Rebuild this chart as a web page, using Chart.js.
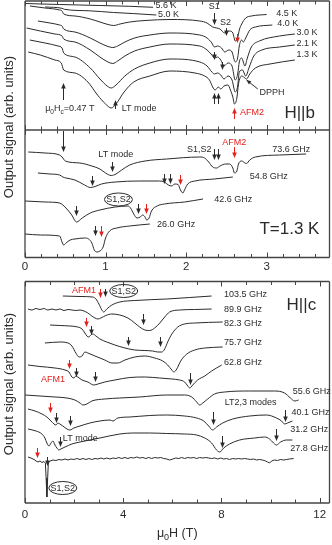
<!DOCTYPE html>
<html>
<head>
<meta charset="utf-8">
<script src="https://cdn.jsdelivr.net/npm/chart.js@4.4.1/dist/chart.umd.min.js"></script>
<style>
  html, body { margin: 0; padding: 0; background: #fff; }
  #wrap { position: relative; width: 332px; height: 545px; }
</style>
</head>
<body>
<div id="wrap"><canvas id="esr" width="332" height="545"></canvas></div>
<script>
// Traces: [field (T), trace offset (arb. units, counted downwards)]

// H||b, temperature series
const hb56 = [[0,3.5],[0.43,4.5],[0.93,5.5],[1.30,6.3],[1.59,7.3]];
const hb50 = [[0.25,7],[0.46,8.3],[0.49,9.3],[0.8,10.8],[1.1,12.5],[1.35,13.6],[1.63,15]];
const hb45 = [[0.06,6],[0.25,8],[0.43,10],[0.46,11],[0.48,14],[0.62,16],[0.81,19],[0.93,22],[1.03,24.5],[1.10,25.5],[1.18,24],[1.30,22],[1.49,20.5],[1.80,19.5],[2.17,21],[2.26,23],[2.33,27],[2.38,28],[2.42,29],[2.48,33],[2.54,31],[2.58,33],[2.61,41],[2.64,38],[2.66,30],[2.69,24],[2.74,18],[2.81,16],[3.00,14.5]];
const hb40 = [[0.16,21],[0.31,23],[0.43,25],[0.46,26],[0.48,29],[0.62,32],[0.81,38],[0.93,43],[1.03,46.5],[1.09,47.5],[1.15,46],[1.24,42],[1.36,38],[1.55,35],[1.80,33],[2.17,35],[2.26,38],[2.32,43],[2.35,47],[2.39,46],[2.44,48],[2.48,52],[2.53,50],[2.57,52],[2.61,62],[2.64,58],[2.66,46],[2.69,40],[2.71,42],[2.74,38],[2.79,30],[2.86,27],[3.07,25]];
const hb30 = [[0.02,28],[0.19,31],[0.37,34],[0.46,36],[0.48,39],[0.62,42],[0.81,50],[0.93,57],[1.03,62],[1.09,63.5],[1.15,61],[1.24,56],[1.36,51],[1.55,47],[1.80,44],[2.17,46],[2.26,50],[2.32,55],[2.35,58],[2.39,57],[2.43,60],[2.47,66],[2.52,63],[2.57,66],[2.61,80],[2.64,74],[2.66,62],[2.69,58],[2.73,66],[2.76,58],[2.81,47],[2.91,41],[3.16,36],[3.35,34]];
const hb21 = [[0.06,40],[0.25,43],[0.41,46],[0.46,48],[0.48,53],[0.62,57],[0.81,68],[0.93,79],[1.02,86],[1.07,88],[1.13,85],[1.24,76],[1.36,69],[1.55,63],[1.80,59],[2.17,62],[2.26,66],[2.32,72],[2.35,74],[2.39,73],[2.43,75],[2.47,79],[2.52,76],[2.57,80],[2.61,92],[2.64,86],[2.66,72],[2.70,70],[2.74,76],[2.78,68],[2.84,56],[2.94,50],[3.16,47],[3.35,45]];
const hb13 = [[0.04,52],[0.19,55],[0.37,60],[0.45,63],[0.48,70],[0.62,73],[0.78,82],[0.90,95],[1.00,104],[1.07,108],[1.13,104],[1.23,92],[1.35,82],[1.55,76],[1.80,71],[2.11,73],[2.23,76],[2.29,80],[2.33,87],[2.36,90],[2.40,87],[2.43,89],[2.47,86],[2.52,85],[2.55,90],[2.58,97],[2.60,104],[2.63,98],[2.65,84],[2.69,76],[2.73,78],[2.75,79],[2.79,74],[2.86,68],[3.04,64],[3.35,60]];

// H||b, T = 1.3 K, frequency series
const f736 = [[0.04,152],[0.25,153],[0.43,155],[0.46,157],[0.50,161],[0.68,163],[0.83,166],[0.93,169],[1.00,173],[1.07,175.5],[1.13,174],[1.20,170],[1.30,165],[1.49,161],[1.76,159],[2.17,157],[2.23,158],[2.28,162],[2.33,167],[2.38,168],[2.42,166],[2.49,164],[2.54,164],[2.58,168],[2.60,173],[2.63,171],[2.65,164],[2.69,161],[2.73,163],[2.75,163.5],[2.79,160],[2.86,157],[3.16,155],[3.49,154]];
const f548 = [[0.16,173],[0.31,174],[0.43,175],[0.47,177],[0.51,178],[0.62,180],[0.74,185],[0.81,187.5],[0.87,186.5],[0.95,184],[1.12,182],[1.43,181],[1.67,181],[1.73,182],[1.78,185],[1.82,186],[1.86,184],[1.90,184.5],[1.93,190],[1.96,193],[1.98,190],[2.02,184],[2.11,181],[2.35,179],[2.58,177]];
const f426 = [[0,201],[0.25,202],[0.43,203],[0.47,205],[0.52,209],[0.58,215],[0.64,222],[0.71,218],[0.81,213],[0.93,210],[1.12,207],[1.28,206],[1.31,208],[1.35,214],[1.39,218],[1.43,217],[1.46,215],[1.49,217],[1.51,220],[1.54,218],[1.57,211],[1.64,206],[1.73,204],[1.98,202],[2.21,199]];
const f260 = [[0,234],[0.19,235],[0.43,236],[0.46,242],[0.48,245],[0.51,243],[0.56,240],[0.62,239],[0.74,238],[0.79,239],[0.83,243],[0.86,250],[0.89,252],[0.93,251],[0.97,247],[1.00,238],[1.05,231],[1.14,228],[1.30,226],[1.55,224]];

// H||c, T = 1.3 K, frequency series
const c1035 = [[1.54,296],[2.24,296.5],[2.76,297],[2.89,299],[3.01,304],[3.13,310],[3.21,312],[3.33,309],[3.54,305],[3.86,302],[4.47,300.5],[5.77,299],[7.60,296]];
const c899 = [[0.12,309],[0.28,310],[0.45,308.5],[0.61,309.5],[0.77,308.5],[0.93,310],[1.10,309],[1.26,310],[1.42,309],[1.59,310.5],[1.75,309.5],[1.91,310],[2.07,310.5],[2.24,310],[2.40,311],[2.56,313],[2.72,316],[2.85,318],[2.97,319],[3.09,318],[3.29,315.5],[3.54,314],[3.86,315],[4.19,318],[4.47,323],[4.67,327],[4.88,330],[5.08,330.5],[5.28,328],[5.49,323],[5.69,317],[5.89,312],[6.30,310],[6.91,309.5],[7.60,309]];
const c823 = [[1.02,325],[1.42,325.5],[1.83,326],[2.15,327],[2.32,329],[2.44,333],[2.52,336],[2.60,337],[2.68,335],[2.76,334],[2.89,336],[3.05,339],[3.33,342],[3.66,345],[4.07,348],[4.47,350],[4.88,350.5],[5.20,351],[5.41,352],[5.57,352],[5.69,349],[5.81,342],[5.98,334],[6.22,327],[6.50,324],[6.91,323],[8.05,322]];
const c757 = [[0.81,343],[1.42,342],[1.75,343],[1.91,346],[2.07,353],[2.20,357],[2.32,356],[2.44,352],[2.56,353],[2.85,356],[3.25,360],[3.54,363],[3.78,363],[4.07,360],[4.47,357],[4.88,356],[5.28,358],[5.61,361],[5.81,365],[5.98,370],[6.06,372],[6.18,369],[6.34,361],[6.59,354],[6.91,350],[7.32,348],[8.05,347]];
const c628 = [[0.12,365],[0.61,366.5],[1.22,368],[1.63,370],[1.79,372],[1.91,377],[1.99,378],[2.07,376],[2.15,377],[2.32,380],[2.56,382],[2.80,385],[2.97,384],[3.25,382],[3.66,380],[4.27,377.5],[4.88,377],[5.49,378],[5.98,379],[6.30,380],[6.50,382],[6.63,386],[6.71,388],[6.83,385],[7.03,380],[7.32,376],[7.60,371],[8.01,365]];
const c556 = [[0,395],[0.61,396],[1.22,397],[1.71,398],[2.03,400],[2.24,403],[2.36,405],[2.52,404],[2.72,401],[3.25,399],[3.86,398],[4.67,397],[5.77,395],[6.50,395],[6.79,397],[6.99,402],[7.11,405],[7.24,403],[7.44,399],[7.72,394],[8.13,392],[9.15,391],[10.16,391],[10.57,393],[10.81,398],[10.98,401],[11.14,400]];
const c401 = [[0.12,409],[0.41,411],[0.69,414],[0.89,417],[1.06,421],[1.18,424],[1.26,425],[1.34,423],[1.42,424],[1.54,426],[1.71,429],[1.83,430],[1.99,428],[2.24,426],[2.64,423],[3.05,421],[3.46,420],[3.58,421],[3.78,418],[4.27,417],[5.08,415.5],[5.77,415],[6.50,416],[6.99,418],[7.28,421],[7.48,426],[7.64,430],[7.80,427],[8.05,423],[8.46,419],[9.15,416],[9.84,415],[10.24,418],[10.45,421],[10.57,424],[10.69,423],[10.89,421]];
const c312 = [[0.12,429],[0.45,431],[0.69,434],[0.81,438],[0.89,443],[0.98,446],[1.06,443],[1.14,441],[1.22,445],[1.30,448],[1.38,450],[1.46,449],[1.63,447],[1.91,444],[2.24,442],[2.64,440],[3.05,438],[3.86,434],[4.39,433],[5.08,433],[5.77,433.5],[6.50,434],[6.99,435],[7.32,438],[7.60,443],[7.80,450],[7.93,452],[8.09,448],[8.33,444],[8.74,440],[9.35,438],[9.76,437],[9.96,439],[10.12,443],[10.24,445],[10.41,442],[10.65,440],[10.89,440]];
const c278 = [[0.12,457],[0.24,458],[0.37,459.5],[0.45,461],[0.53,462],[0.61,461],[0.69,462.5],[0.77,461.5],[0.83,463],[0.86,478],[0.89,497],[0.92,480],[0.95,463],[1.02,461],[1.14,460],[1.26,460.5],[1.38,459.5],[1.50,460],[1.63,459],[1.75,460],[1.87,459],[1.99,459.5],[2.11,458.5],[2.24,459.5],[2.36,458.5],[2.48,459.5],[2.60,458.5],[2.72,459.5],[2.85,458.5],[2.97,459],[3.09,458],[3.21,459],[3.33,458],[3.46,459],[3.58,458],[3.70,458.5],[3.82,457.5],[3.94,458.5],[4.07,457.5],[4.19,458.5],[4.31,457.5],[4.43,458],[4.55,457],[4.67,458],[4.80,457.5],[4.92,458.5],[5.04,457.5],[5.16,458.5],[5.28,457.5],[5.41,458],[5.53,457.5],[5.65,458.5],[5.77,459],[5.89,460],[6.02,459],[6.14,458],[6.26,458.5],[6.38,457.5],[6.50,458.5],[6.63,457.5],[6.75,458],[6.87,457.5],[6.99,458.5],[7.11,457.5],[7.24,458],[7.36,457.5],[7.48,458],[7.60,458.5],[7.72,458],[7.85,459],[7.97,458],[8.09,459],[8.21,458.5],[8.33,459.5],[8.46,458.5],[8.58,459],[8.70,458.5],[8.82,459],[8.94,458.5],[9.07,459],[9.19,459.5],[9.31,459],[9.43,460],[9.55,459.5],[9.67,460],[9.80,461],[9.88,462],[9.96,463],[10.04,461],[10.16,460],[10.28,460.5],[10.41,459.5],[10.53,460],[10.65,459.5],[10.77,459],[10.94,458.5]];

// axis ticks
const bTicks = [0,0.2,0.4,0.6,0.8,1,1.2,1.4,1.6,1.8,2,2.2,2.4,2.6,2.8,3,3.2,3.4,3.6];
const bLabels = [0,1,2,3];
const cTicks = [0,1,2,3,4,5,6,7,8,9,10,11,12];
const cLabels = [0,4,8,12];

const ink = '#2b2b2b';
const red = '#e3211c';
const FONT = '"Liberation Sans", Arial, Helvetica, sans-serif';

// markers: [axis, field, from, to, colour]
const arrows = [
  ['xb',0.47,100,83,ink],['xb',1.12,109,100,ink],['xb',2.35,13,25,ink],['xb',2.49,28,36,ink],
  ['xb',2.63,34,43,red],['xb',2.35,52,60,ink],['xb',2.45,62,70,ink],
  ['xb',2.35,104,93,ink],['xb',2.40,104,93,ink],['xb',2.60,119,108,red],
  ['xb',0.47,131,152,ink],['xb',1.08,162,172,ink],['xb',2.34,149,160,ink],['xb',2.39,149,160,ink],
  ['xb',2.60,147,158,red],['xb',0.83,176,186,ink],['xb',1.73,174,184,ink],['xb',1.80,174,184,ink],
  ['xb',1.93,175,185,red],['xb',0.63,206,216,ink],['xb',1.40,204,214,ink],['xb',1.50,204,214,red],
  ['xb',0.87,226,236,ink],['xb',0.94,226,237,red],
  ['xc',3.05,289,298,red],['xc',3.25,289,297,ink],['xc',4.80,314,325,ink],['xc',2.48,318,327,red],
  ['xc',2.68,326,335,ink],['xc',4.19,337,346,ink],['xc',5.49,337,347,ink],['xc',1.79,360,369,red],
  ['xc',2.07,368,377,ink],['xc',2.85,372,382,ink],['xc',6.71,373,385,ink],['xc',1.02,403,413,red],
  ['xc',1.26,413,423,ink],['xc',1.83,416,426,ink],['xc',7.64,412,425,ink],['xc',10.57,410,422,ink],
  ['xc',1.42,437,447,ink],['xc',8.01,436,448,ink],['xc',10.24,429,441,ink],['xc',0.49,448,458,red],
  ['xc',0.89,457,466,ink]
];

const notes = [
  {ax:'xb', t:'5.6 K', x:1.62, y:5.5}, {ax:'xb', t:'5.0 K', x:1.65, y:15},
  {ax:'xb', t:'4.5 K', x:3.12, y:13.5}, {ax:'xb', t:'4.0 K', x:3.13, y:24},
  {ax:'xb', t:'3.0 K', x:3.37, y:32.5}, {ax:'xb', t:'2.1 K', x:3.37, y:44},
  {ax:'xb', t:'1.3 K', x:3.37, y:55},
  {ax:'xb', t:'S1', x:2.35, y:7, a:'center'}, {ax:'xb', t:'S2', x:2.49, y:23, a:'center'},
  {ax:'xb', t:'DPPH', x:2.91, y:93}, {ax:'xb', t:'LT mode', x:1.2, y:109},
  {ax:'xb', t:'AFM2', x:2.67, y:113, c:red}, {ax:'xb', t:'H||b', x:3.22, y:113, s:17},
  {ax:'xb', t:'LT mode', x:0.91, y:155}, {ax:'xb', t:'S1,S2', x:2.01, y:150},
  {ax:'xb', t:'AFM2', x:2.45, y:143, c:red}, {ax:'xb', t:'73.6 GHz', x:3.07, y:150},
  {ax:'xb', t:'54.8 GHz', x:2.79, y:177}, {ax:'xb', t:'42.6 GHz', x:2.35, y:200},
  {ax:'xb', t:'26.0 GHz', x:1.64, y:225}, {ax:'xb', t:'T=1.3 K', x:2.91, y:229, s:17},
  {ax:'xc', t:'AFM1', x:1.91, y:291, c:red}, {ax:'xc', t:'103.5 GHz', x:8.1, y:295},
  {ax:'xc', t:'89.9 GHz', x:8.1, y:309.5}, {ax:'xc', t:'82.3 GHz', x:8.1, y:324},
  {ax:'xc', t:'75.7 GHz', x:8.1, y:343}, {ax:'xc', t:'62.8 GHz', x:8.1, y:363},
  {ax:'xc', t:'H||c', x:10.65, y:305, s:17}, {ax:'xc', t:'AFM1', x:0.65, y:380, c:red},
  {ax:'xc', t:'55.6 GHz', x:10.9, y:392}, {ax:'xc', t:'LT2,3 modes', x:8.13, y:403},
  {ax:'xc', t:'40.1 GHz', x:10.85, y:413}, {ax:'xc', t:'31.2 GHz', x:10.8, y:430},
  {ax:'xc', t:'27.8 GHz', x:10.8, y:449}, {ax:'xc', t:'LT mode', x:1.54, y:439}
];
const circled = [['xb',1.16,199.5],['xc',4.02,291],['xc',1.54,488]];

const panels = [
  {ax:'xb', edges:[1,130,257.5], ticks:bTicks, major:bLabels, labels:bLabels, labelY:267, titleY:127},
  {ax:'xc', edges:[281.5,503], ticks:cTicks, major:cLabels, labels:cLabels, labelY:515, titleY:384}
];

function font(size) { return size + 'px ' + FONT; }

function richText(ctx, segs, x, y, size, align) {
  let w = 0;
  segs.forEach(s => { ctx.font = font(s[1] ? size * 0.72 : size); w += ctx.measureText(s[0]).width; });
  let cx = align === 'center' ? x - w / 2 : x;
  ctx.textAlign = 'left';
  segs.forEach(s => {
    ctx.font = font(s[1] ? size * 0.72 : size);
    ctx.fillText(s[0], cx, s[1] ? y + size * 0.32 : y);
    cx += ctx.measureText(s[0]).width;
  });
}

function arrow(ctx, x, y0, y1, color) {
  const d = y1 > y0 ? 1 : -1;
  ctx.strokeStyle = color; ctx.fillStyle = color; ctx.lineWidth = 1;
  ctx.beginPath(); ctx.moveTo(x, y0); ctx.lineTo(x, y1 - d * 4); ctx.stroke();
  ctx.beginPath(); ctx.moveTo(x, y1); ctx.lineTo(x - 2.3, y1 - d * 5.5); ctx.lineTo(x + 2.3, y1 - d * 5.5);
  ctx.closePath(); ctx.fill();
}

const decor = {
  id: 'decor',
  afterDatasetsDraw(chart) {
    const ctx = chart.ctx;
    const ys = chart.scales.y;
    ctx.save();
    ctx.textBaseline = 'middle';

    panels.forEach(p => {
      const xs = chart.scales[p.ax];
      const L = xs.getPixelForValue(xs.min), R = xs.getPixelForValue(xs.max);
      const E = p.edges.map(v => ys.getPixelForValue(v));
      ctx.strokeStyle = '#444'; ctx.lineWidth = 1.3;
      ctx.beginPath();
      E.forEach(e => { ctx.moveTo(L, e); ctx.lineTo(R, e); });
      ctx.moveTo(L, E[0]); ctx.lineTo(L, E[E.length - 1]);
      ctx.moveTo(R, E[0]); ctx.lineTo(R, E[E.length - 1]);
      ctx.stroke();
      ctx.lineWidth = 1;
      ctx.beginPath();
      p.ticks.forEach(v => {
        const x = Math.round(xs.getPixelForValue(v)) + 0.5;
        const len = p.major.includes(v) ? 5 : 3.5;
        E.forEach((e, i) => {
          if (i > 0) { ctx.moveTo(x, e); ctx.lineTo(x, e - len); }
          if (i < E.length - 1) { ctx.moveTo(x, e); ctx.lineTo(x, e + len); }
        });
      });
      ctx.stroke();
      ctx.fillStyle = ink; ctx.font = font(11.5); ctx.textAlign = 'center';
      p.labels.forEach(v => ctx.fillText(String(v), xs.getPixelForValue(v), p.labelY));
      // y title
      ctx.save();
      ctx.translate(9, p.titleY); ctx.rotate(-Math.PI / 2);
      ctx.font = font(13); ctx.textAlign = 'center'; ctx.fillStyle = ink;
      ctx.fillText('Output signal (arb. units)', 0, 0);
      ctx.restore();
    });

    // x title
    ctx.fillStyle = ink;
    richText(ctx, [['\u03bc',0],['0',1],['H (T)',0]], (chart.chartArea.left + chart.chartArea.right) / 2, 534, 12.5, 'center');

    arrows.forEach(a => arrow(ctx, Math.round(chart.scales[a[0]].getPixelForValue(a[1])) + 0.5, ys.getPixelForValue(a[2]), ys.getPixelForValue(a[3]), a[4]));

    // DPPH leader
    const xb = chart.scales.xb;
    ctx.strokeStyle = ink; ctx.fillStyle = ink; ctx.lineWidth = 1;
    const x0 = xb.getPixelForValue(2.89), y0 = ys.getPixelForValue(89);
    const x1 = xb.getPixelForValue(2.75), y1 = ys.getPixelForValue(80);
    ctx.beginPath(); ctx.moveTo(x0, y0); ctx.lineTo(x1, y1); ctx.stroke();
    const ang = Math.atan2(y1 - y0, x1 - x0);
    ctx.beginPath(); ctx.moveTo(x1, y1);
    ctx.lineTo(x1 - 5 * Math.cos(ang - 0.4), y1 - 5 * Math.sin(ang - 0.4));
    ctx.lineTo(x1 - 5 * Math.cos(ang + 0.4), y1 - 5 * Math.sin(ang + 0.4));
    ctx.closePath(); ctx.fill();

    notes.forEach(n => {
      ctx.fillStyle = n.c || ink;
      ctx.font = font(n.s || 9);
      ctx.textAlign = n.a || 'left';
      ctx.fillText(n.t, chart.scales[n.ax].getPixelForValue(n.x), ys.getPixelForValue(n.y));
    });
    ctx.fillStyle = ink;
    richText(ctx, [['\u03bc',0],['0',1],['H',0],['c',1],['=0.47 T',0]], xb.getPixelForValue(0.25), ys.getPixelForValue(109), 9, 'left');

    circled.forEach(c => {
      const x = chart.scales[c[0]].getPixelForValue(c[1]), y = ys.getPixelForValue(c[2]);
      ctx.strokeStyle = ink; ctx.lineWidth = 1;
      ctx.beginPath(); ctx.ellipse(x, y, 14, 6.5, 0, 0, Math.PI * 2); ctx.stroke();
      ctx.fillStyle = ink; ctx.font = font(9); ctx.textAlign = 'center';
      ctx.fillText('S1,S2', x, y + 0.5);
    });
    ctx.restore();
  }
};

const traces = [
  [hb56,'xb'],[hb50,'xb'],[hb45,'xb'],[hb40,'xb'],[hb30,'xb'],[hb21,'xb'],[hb13,'xb'],
  [f736,'xb'],[f548,'xb'],[f426,'xb'],[f260,'xb'],
  [c1035,'xc'],[c899,'xc'],[c823,'xc'],[c757,'xc'],[c628,'xc'],[c556,'xc'],[c401,'xc'],[c312,'xc'],[c278,'xc']
];

new Chart(document.getElementById('esr'), {
  type: 'line',
  plugins: [decor],
  data: {
    datasets: traces.map(t => ({
      data: t[0].map(p => ({ x: p[0], y: p[1] })),
      xAxisID: t[1],
      yAxisID: 'y',
      borderColor: ink,
      borderWidth: 1,
      pointRadius: 0,
      fill: false,
      cubicInterpolationMode: t[0] === c278 ? 'default' : 'monotone',
      tension: 0
    }))
  },
  options: {
    responsive: false,
    animation: false,
    devicePixelRatio: 1,
    layout: { padding: { left: 25, right: 2.5, top: 1, bottom: 42 } },
    plugins: { legend: { display: false }, tooltip: { enabled: false } },
    scales: {
      xb: { type: 'linear', min: 0, max: 3.78, display: false },
      xc: { type: 'linear', min: 0, max: 12.4, display: false },
      y: { type: 'linear', min: 1, max: 503, reverse: true, display: false }
    }
  }
});
</script>
</body>
</html>
